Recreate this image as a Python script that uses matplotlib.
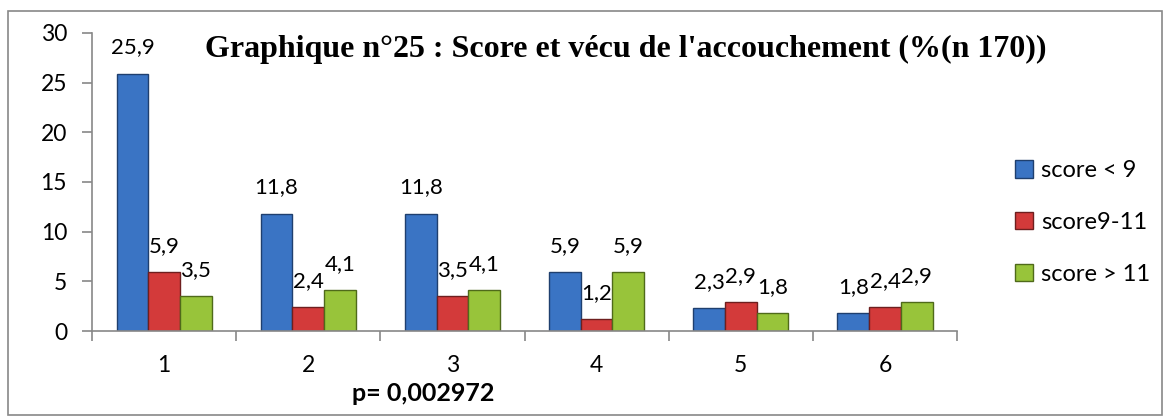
import numpy as np
import matplotlib.pyplot as plt
from matplotlib.patches import Rectangle

categories = ["1", "2", "3", "4", "5", "6"]
score_inf9 = [25.9, 11.8, 11.8, 5.9, 2.3, 1.8]
score_9_11 = [5.9, 2.4, 3.5, 1.2, 2.9, 2.4]
score_sup11 = [3.5, 4.1, 4.1, 5.9, 1.8, 2.9]
series_names = ["score < 9", "score9-11", "score > 11"]

plt.rcParams["font.family"] = ["Lato", "DejaVu Sans"]

fig = plt.figure(figsize=(11.65, 4.16), dpi=100)
ax = fig.add_axes([0.079, 0.2043, 0.7425, 0.7164])

# cadre gris autour du graphique
fig.patches.append(Rectangle((8 / 1165, 1 / 416), 1154 / 1165, 404 / 416,
                             transform=fig.transFigure, fill=False,
                             edgecolor="#888888", linewidth=1.2))

x = np.arange(len(categories)) + 0.5
w = 0.22
couleurs = ["#3a74c4", "#d33a3a", "#98c43a"]
bords = ["#1f3f6e", "#6e1f1f", "#4f6a1a"]
series = [score_inf9, score_9_11, score_sup11]

for i, (vals, nom) in enumerate(zip(series, series_names)):
    barres = ax.bar(x + (i - 1) * w, vals, width=w, color=couleurs[i],
                    edgecolor=bords[i], linewidth=1, label=nom)
    for b, v in zip(barres, vals):
        ax.annotate(str(v).replace(".", ","),
                    (b.get_x() + b.get_width() / 2, v),
                    xytext=(0, 19), textcoords="offset points",
                    ha="center", va="center", fontsize=16)

ax.set_xlim(0, 6)
ax.set_ylim(0, 30)
ax.set_yticks(range(0, 31, 5))
ax.set_xticks(range(0, 7))
ax.set_xticklabels([])
ax.set_xticks(x, minor=True)
ax.set_xticklabels(categories, minor=True)
ax.tick_params(axis="x", which="major", length=7, color="#888888", width=1.2)
ax.tick_params(axis="x", which="minor", length=0, pad=17, labelsize=16.5)
ax.tick_params(axis="y", length=7, color="#888888", width=1.2, pad=11, labelsize=16.5)

for s in ["top", "right"]:
    ax.spines[s].set_visible(False)
ax.spines["left"].set_color("#888888")
ax.spines["bottom"].set_color("#888888")
ax.spines["left"].set_linewidth(1.2)
ax.spines["bottom"].set_linewidth(1.2)

fig.text(0.537, 0.882, "Graphique n°25 : Score et vécu de l'accouchement (%(n 170))",
         ha="center", va="center", fontsize=23, fontweight="bold",
         family="Liberation Serif")
fig.text(0.363, 0.055, "p= 0,002972", ha="center", va="center",
         fontsize=18, fontweight="bold")

fig.legend(loc="center left", bbox_to_anchor=(0.853, 0.465), frameon=False,
           fontsize=17, handlelength=0.75, handleheight=0.75,
           labelspacing=1.3, handletextpad=0.35)

fig.savefig("out.png", dpi=100)
